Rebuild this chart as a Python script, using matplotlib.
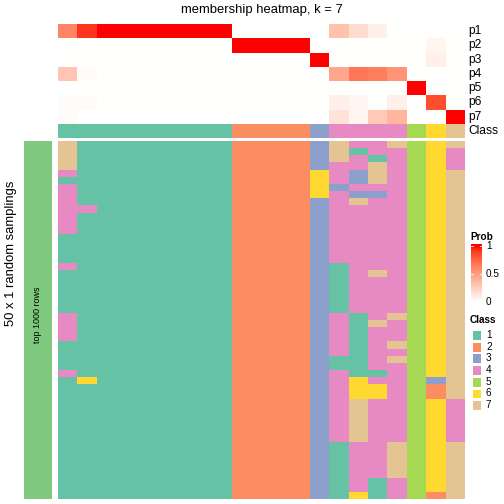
"""Membership heatmap for k = 7 with 50 random samplings."""

import matplotlib
matplotlib.use("Agg")
import matplotlib.pyplot as plt
from matplotlib.colors import ListedColormap
import numpy as np

plt.rcParams["font.family"] = ["Liberation Sans", "DejaVu Sans"]

W, H = 504, 504

class_labels = ["1", "2", "3", "4", "5", "6", "7"]
class_colors = ["#66C2A5", "#FC8D62", "#8DA0CB", "#E78AC3", "#A6D854", "#FFD92F", "#E5C494"]
prob_rows = ["p1", "p2", "p3", "p4", "p5", "p6", "p7"]

# membership probability per sample (21 samples)
p1 = [0.62, 0.92, 1, 1, 1, 1, 1, 1, 1, 0, 0, 0, 0, 0, 0.32, 0.18, 0.08, 0, 0, 0, 0]
p2 = [0, 0, 0, 0, 0, 0, 0, 0, 0, 1, 1, 1, 1, 0, 0, 0, 0, 0, 0, 0.05, 0]
p3 = [0, 0, 0, 0, 0, 0, 0, 0, 0, 0, 0, 0, 0, 1, 0, 0, 0, 0, 0, 0.08, 0]
p4 = [0.3, 0.02, 0, 0, 0, 0, 0, 0, 0, 0, 0, 0, 0, 0, 0.45, 0.68, 0.65, 0.55, 0, 0, 0]
p5 = [0, 0, 0, 0, 0, 0, 0, 0, 0, 0, 0, 0, 0, 0, 0, 0, 0, 0, 1, 0, 0]
p6 = [0.02, 0.02, 0, 0, 0, 0, 0, 0, 0, 0, 0, 0, 0, 0, 0.08, 0.05, 0, 0.08, 0, 0.85, 0]
p7 = [0.02, 0, 0, 0, 0, 0, 0, 0, 0, 0, 0, 0, 0, 0, 0.15, 0.05, 0.28, 0.38, 0, 0, 1]
sample_class = [1, 1, 1, 1, 1, 1, 1, 1, 1, 2, 2, 2, 2, 3, 4, 4, 4, 4, 5, 6, 7]

# class assigned in each of the 50 samplings (one row per sampling)
samplings = [
    "71 1111111 2222 3 7447 5 67",
    "71 1111111 2222 3 7144 5 64",
    "71 1111111 2222 3 7414 5 64",
    "71 1111111 2222 3 4474 5 64",
    "41 1111111 2222 6 4374 5 67",
    "11 1111111 2222 6 4374 5 67",
    "41 1111111 2222 6 3444 5 67",
    "41 1111111 2222 6 4334 5 67",
    "41 1111111 2222 3 4744 5 67",
    "44 1111111 2222 3 4444 5 67",
    "41 1111111 2222 3 4444 5 67",
    "41 1111111 2222 3 4444 5 67",
    "41 1111111 2222 3 4444 5 67",
    "11 1111111 2222 3 4444 5 67",
    "11 1111111 2222 3 4444 5 67",
    "11 1111111 2222 3 4444 5 67",
    "11 1111111 2222 3 4444 5 67",
    "41 1111111 2222 3 1444 5 67",
    "11 1111111 2222 3 1474 5 67",
    "11 1111111 2222 3 1444 5 67",
    "11 1111111 2222 3 1444 5 67",
    "11 1111111 2222 3 1444 5 67",
    "11 1111111 2222 3 1444 5 67",
    "11 1111111 2222 3 1444 5 67",
    "41 1111111 2222 3 4147 5 67",
    "41 1111111 2222 3 4174 5 67",
    "41 1111111 2222 3 4144 5 67",
    "41 1111111 2222 3 4144 5 67",
    "11 1111111 2222 3 4147 5 67",
    "11 1111111 2222 3 4144 5 67",
    "11 1111111 2222 3 1147 5 67",
    "11 1111111 2222 3 1144 5 67",
    "41 1111111 2222 3 4114 5 67",
    "16 1111111 2222 3 4644 5 37",
    "11 1111111 2222 3 4664 5 27",
    "11 1111111 2222 3 4664 5 27",
    "11 1111111 2222 3 4744 5 64",
    "11 1111111 2222 3 4744 5 64",
    "11 1111111 2222 3 4744 5 64",
    "11 1111111 2222 3 4744 5 64",
    "11 1111111 2222 3 4744 5 64",
    "11 1111111 2222 3 4744 5 64",
    "11 1111111 2222 3 1447 5 67",
    "11 1111111 2222 3 1447 5 67",
    "11 1111111 2222 3 1447 5 67",
    "11 1111111 2222 3 1447 5 67",
    "11 1111111 2222 3 1447 5 67",
    "11 1111111 2222 3 1414 5 67",
    "11 1111111 2222 3 1414 5 67",
    "11 1111111 2222 3 1614 5 27",
]


def lab_ramp(n=256):
    # white -> red interpolated in LAB space, like colorRamp2
    t = np.linspace(0, 1, n)
    L = 100 + (53.24 - 100) * t
    a = 80.09 * t
    b = 67.20 * t
    fy = (L + 16) / 116
    fx = fy + a / 500
    fz = fy - b / 200

    def finv(f):
        return np.where(f ** 3 > 0.008856, f ** 3, (f - 16 / 116) / 7.787)

    X, Y, Z = 0.95047 * finv(fx), finv(fy), 1.08883 * finv(fz)
    r = 3.2406 * X - 1.5372 * Y - 0.4986 * Z
    g = -0.9689 * X + 1.8758 * Y + 0.0415 * Z
    bb = 0.0557 * X - 0.2040 * Y + 1.0570 * Z
    rgb = np.stack([r, g, bb], axis=1)
    rgb = np.where(rgb <= 0.0031308, 12.92 * rgb, 1.055 * np.clip(rgb, 0, None) ** (1 / 2.4) - 0.055)
    return ListedColormap(np.clip(rgb, 0, 1))


def px_axes(fig, x0, y0, x1, y1):
    ax = fig.add_axes([x0 / W, 1 - y1 / H, (x1 - x0) / W, (y1 - y0) / H])
    ax.set_axis_off()
    return ax


prob_cmap = lab_ramp()
class_cmap = ListedColormap(class_colors)

fig = plt.figure(figsize=(7, 7), dpi=72)

left, right = 58, 465
top_p, row_h = 24, 14.24
class_top = top_p + 7 * row_h
main_top, main_bot = 141, 498.7

prob = np.array([p1, p2, p3, p4, p5, p6, p7])
ax = px_axes(fig, left, top_p, right, class_top)
ax.imshow(prob, cmap=prob_cmap, vmin=0, vmax=1, aspect="auto", interpolation="nearest")

ax = px_axes(fig, left, class_top, right, class_top + 14.3)
ax.imshow(np.array([sample_class]) - 1, cmap=class_cmap, vmin=-0.5, vmax=6.5,
          aspect="auto", interpolation="nearest")

mat = np.array([[int(c) for c in s.replace(" ", "")] for s in samplings])
ax = px_axes(fig, left, main_top, right, main_bot)
ax.imshow(mat - 1, cmap=class_cmap, vmin=-0.5, vmax=6.5, aspect="auto", interpolation="nearest")

# left annotation bar
ax = px_axes(fig, 24, main_top, 52, main_bot)
ax.add_patch(plt.Rectangle((0, 0), 1, 1, color="#7FC97F"))
fig.text(38 / W, 1 - 315 / H, "top 1000 rows", rotation=90, ha="center", va="center", fontsize=9)
fig.text(11 / W, 1 - 253 / H, "50 x 1 random samplings", rotation=90, ha="center", va="center",
         fontsize=13)

fig.text((left + right) / 2 / W, 1 - 10 / H, "membership heatmap, k = 7", ha="center",
         va="center", fontsize=13)

for i, name in enumerate(prob_rows + ["Class"]):
    y = top_p + (i + 0.5) * row_h
    fig.text(468 / W, 1 - y / H, name, ha="left", va="center", fontsize=12)

# Prob legend
fig.text(470 / W, 1 - 237 / H, "Prob", ha="left", va="center", fontsize=10, fontweight="bold")
ax = px_axes(fig, 471, 244, 482, 302)
ax.imshow(np.linspace(1.04, 0, 100).reshape(-1, 1), cmap=prob_cmap, vmin=0, vmax=1,
          aspect="auto", extent=(0, 1, 0, 1.04))
ax.set_xlim(0, 1)
ax.set_ylim(0, 1.04)
for v in [0.5, 1]:
    ax.plot([0, 0.2], [v, v], color="white", lw=0.8)
    ax.plot([0.8, 1], [v, v], color="white", lw=0.8)
for v, lab in [(1, "1"), (0.5, "0.5"), (0, "0")]:
    fig.text(486 / W, 1 - (302 - 56 * v) / H, lab, ha="left", va="center", fontsize=10)

# Class legend
fig.text(470 / W, 1 - 320 / H, "Class", ha="left", va="center", fontsize=10, fontweight="bold")
for i, (lab, col) in enumerate(zip(class_labels, class_colors)):
    yc = 335 + i * 11.7
    ax = px_axes(fig, 471, yc - 5.5, 482, yc + 5.5)
    ax.add_patch(plt.Rectangle((0.05, 0.05), 0.9, 0.9, facecolor=col, edgecolor="white", lw=1))
    fig.text(486 / W, 1 - yc / H, lab, ha="left", va="center", fontsize=10)

fig.savefig("out.png", dpi=72)
plt.close(fig)
